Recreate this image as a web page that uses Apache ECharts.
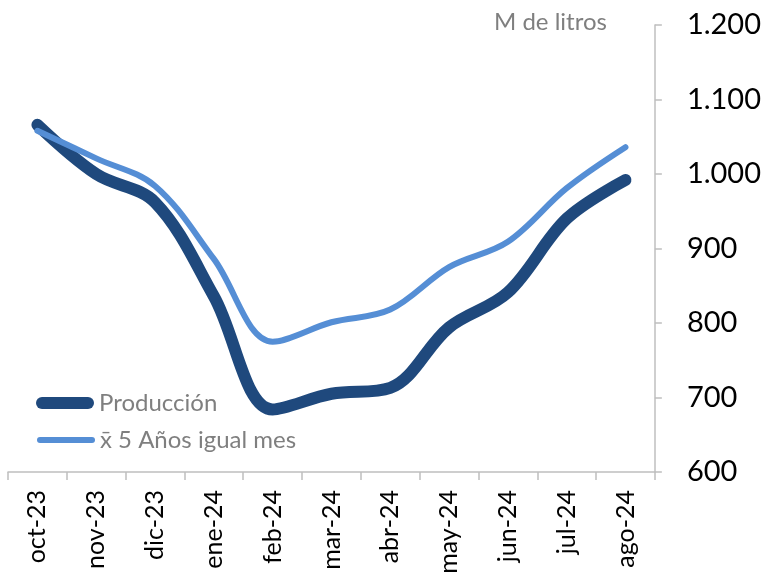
<!DOCTYPE html>
<html>
<head>
<meta charset="utf-8">
<script src="https://cdn.jsdelivr.net/npm/echarts@6/dist/echarts.min.js"></script>
<style>html,body{margin:0;padding:0;background:#fff}#c{width:764px;height:577px}</style>
</head>
<body>
<div id="c"></div>
<script>
var categories = ['oct-23','nov-23','dic-23','ene-24','feb-24','mar-24','abr-24','may-24','jun-24','jul-24','ago-24'];
var produccion = [1066, 1000, 962, 836, 684, 705, 713, 794, 841, 940, 992];
var media5 = [1058, 1021, 984, 886, 775, 801, 818, 875, 909, 981, 1036];
var yTicks = [600, 700, 800, 900, 1000, 1100, 1200];

var FONT = 'Lato';
var chart = echarts.init(document.getElementById('c'));
function capsule(w, h) {
  var r = h / 2;
  return 'path://M' + r + ',0 L' + (w - r) + ',0 A' + r + ',' + r + ' 0 0 1 ' + (w - r) + ',' + h +
    ' L' + r + ',' + h + ' A' + r + ',' + r + ' 0 0 1 ' + r + ',0 Z';
}
chart.setOption({
  animation: false,
  backgroundColor: '#ffffff',
  title: {
    text: 'M de litros', left: 489, top: 5,
    textStyle: { fontFamily: FONT, fontSize: 24, fontWeight: 'normal', color: '#7f7f7f' }
  },
  legend: [
    {
      data: [{ name: 'Producción', icon: capsule(58, 12) }],
      left: 36, top: 391, itemWidth: 58, itemHeight: 12, padding: 0,
      textStyle: { fontFamily: FONT, fontSize: 24, color: '#7f7f7f' }
    },
    {
      data: [{ name: 'x̄ 5 Años igual mes', icon: capsule(58, 6) }],
      left: 37, top: 428, itemWidth: 58, itemHeight: 6, padding: 0,
      textStyle: { fontFamily: FONT, fontSize: 24, color: '#7f7f7f' }
    }
  ],
  grid: { left: 8, right: 106, top: 25, bottom: 105, containLabel: false },
  xAxis: {
    type: 'category',
    data: categories,
    boundaryGap: true,
    axisLine: { lineStyle: { color: '#bfbfbf', width: 1.5 } },
    axisTick: { show: true, length: 8, alignWithLabel: false, lineStyle: { color: '#bfbfbf', width: 1.5 } },
    axisLabel: { rotate: 90, margin: 18, fontFamily: FONT, fontSize: 25, color: '#000' },
    splitLine: { show: false }
  },
  yAxis: {
    type: 'value',
    position: 'right',
    min: yTicks[0], max: yTicks[yTicks.length - 1], interval: 100,
    axisLine: { show: true, lineStyle: { color: '#bfbfbf', width: 1.5 } },
    axisTick: { show: true, inside: false, length: 7, lineStyle: { color: '#bfbfbf', width: 1.5 } },
    axisLabel: {
      margin: 32, fontFamily: FONT, fontSize: 29, color: '#000',
      formatter: function (v) { return String(v).replace(/\B(?=(\d{3})+(?!\d))/g, '.'); }
    },
    splitLine: { show: false }
  },
  series: [
    {
      name: 'x̄ 5 Años igual mes', type: 'line', data: media5, smooth: 0.35,
      showSymbol: false, symbol: 'none', z: 3,
      lineStyle: { color: '#558ed5', width: 6, cap: 'round', join: 'round' },
      itemStyle: { color: '#558ed5' }
    },
    {
      name: 'Producción', type: 'line', data: produccion, smooth: 0.35,
      showSymbol: false, symbol: 'none', z: 2,
      lineStyle: { color: '#1f497d', width: 12, cap: 'round', join: 'round' },
      itemStyle: { color: '#1f497d' }
    }
  ]
});
</script>
</body>
</html>
